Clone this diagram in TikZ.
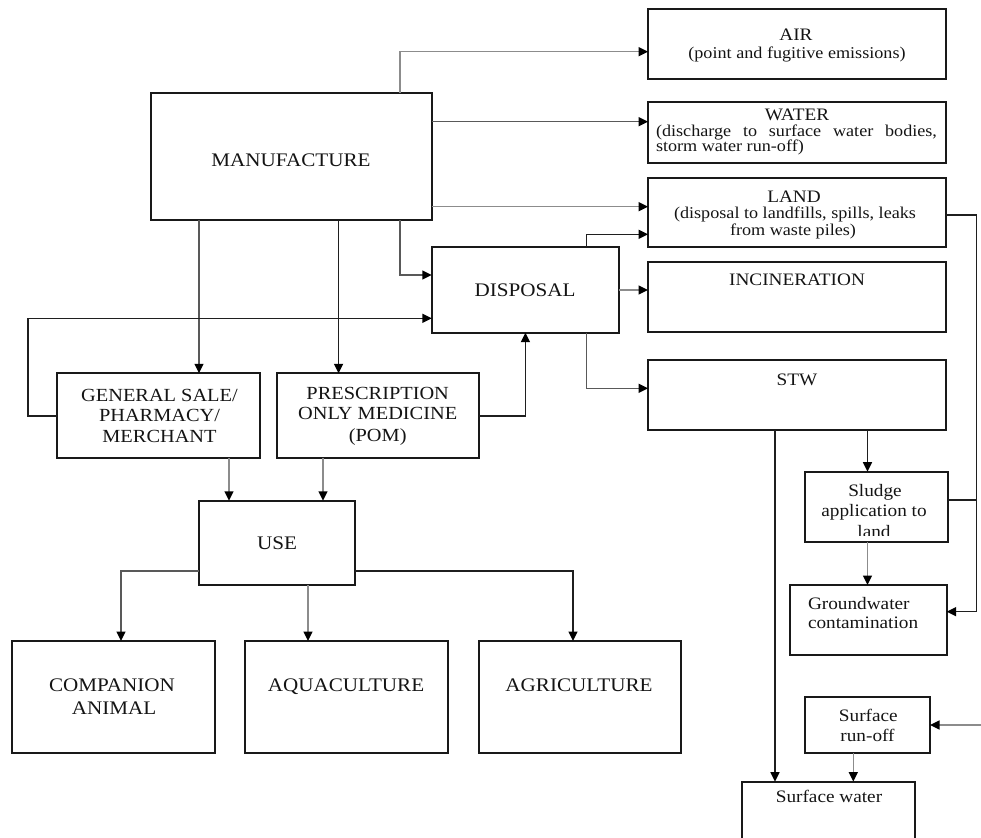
\documentclass[tikz,border=0pt]{standalone}
\usepackage{fontspec}
\setmainfont[FakeStretch=1.1]{Liberation Serif}
\usetikzlibrary{arrows.meta}
\newcommand\fsTitle{\fontsize{19.2}{21}\selectfont}
\newcommand\fsMid{\fontsize{18.5}{21}\selectfont}
\newcommand\fsHead{\fontsize{17.5}{19}\selectfont}
\newcommand\fsDesc{\fontsize{16.5}{17}\selectfont}
\tikzset{
  box/.style={draw=black!90, line width=1.8pt, inner sep=0pt, outer sep=0pt},
  txt/.style={inner sep=0pt, outer sep=0pt, anchor=base, text=black!92},
  conn/.style={line width=1.5pt},
  arr/.style={conn, -{Triangle[length=9.5pt,width=9pt,color=black]}},
  gl/.style={draw=black!45},
  ml/.style={draw=black!65},
  dl/.style={draw=black!88},
}
\begin{document}
\begin{tikzpicture}[x=1pt,y=-1pt]
\useasboundingbox (0,0) rectangle (981,837);

% ---------- boxes ----------
\node[box, minimum width=298pt, minimum height=69.4pt] (air) at (797,44) {};
\node[box, minimum width=298pt, minimum height=61.6pt] (water) at (797,132.5) {};
\node[box, minimum width=298pt, minimum height=68.4pt] (land) at (797,212.5) {};
\node[box, minimum width=298pt, minimum height=70pt] (inc) at (797,296.7) {};
\node[box, minimum width=298pt, minimum height=70pt] (stw) at (797,395) {};
\node[box, minimum width=281pt, minimum height=127.3pt] (man) at (291.2,156.4) {};
\node[box, minimum width=187.3pt, minimum height=85.4pt] (disp) at (525.4,290) {};
\node[box, minimum width=203pt, minimum height=85pt] (gen) at (158.5,415.8) {};
\node[box, minimum width=201.6pt, minimum height=85pt] (pom) at (377.8,415.8) {};
\node[box, minimum width=155.7pt, minimum height=84.3pt] (use) at (276.9,542.9) {};
\node[box, minimum width=203pt, minimum height=112pt] (comp) at (113.5,697) {};
\node[box, minimum width=203pt, minimum height=112pt] (aqua) at (346.2,697) {};
\node[box, minimum width=202pt, minimum height=112pt] (agri) at (580,697) {};
\node[box, minimum width=142.7pt, minimum height=70pt] (sludge) at (876.3,506.7) {};
\node[box, minimum width=156.7pt, minimum height=70pt] (gw) at (868.3,620) {};
\node[box, minimum width=125pt, minimum height=56.3pt] (runoff) at (867.5,724.8) {};
\node[box, minimum width=173pt, minimum height=68.3pt] (sw) at (828.5,815.8) {};

% ---------- texts ----------
\node[txt] (airT1) at (796,40.8) {\fsHead AIR};
\node[txt] (airT2) at (797,58.3) {\fsDesc (point and fugitive emissions)};
\node[txt] (watT1) at (797,120.8) {\fsHead WATER};
\node[txt, anchor=base west] (watT2) at (656,137) {\fsDesc\makebox[281pt][s]{(discharge to surface water bodies,}};
\node[txt, anchor=base west] (watT3) at (656,152) {\fsDesc storm water run-off)};
\node[txt] (lanT1) at (794,202.5) {\fsHead LAND};
\node[txt] (lanT2) at (795,218.6) {\fsDesc (disposal to landfills, spills, leaks};
\node[txt] (lanT3) at (793,235.3) {\fsDesc from waste piles)};
\node[txt] (incT) at (797,285.8) {\fsHead INCINERATION};
\node[txt] (stwT) at (797,385.8) {\fsHead STW};
\node[txt] (manT) at (291,166.2) {\fsTitle MANUFACTURE};
\node[txt] (dispT) at (525,296.3) {\fsTitle DISPOSAL};
\node[txt] (genT1) at (159.5,401) {\fsMid GENERAL SALE/};
\node[txt] (genT2) at (159.5,421.5) {\fsMid PHARMACY/};
\node[txt] (genT3) at (159.5,442.5) {\fsMid MERCHANT};
\node[txt] (pomT1) at (377.7,399) {\fsMid PRESCRIPTION};
\node[txt] (pomT2) at (377.7,419.5) {\fsMid ONLY MEDICINE};
\node[txt] (pomT3) at (377.7,441) {\fsMid (POM)};
\node[txt] (useT) at (277,549) {\fsTitle USE};
\node[txt] (compT1) at (112,691.3) {\fsTitle COMPANION};
\node[txt] (compT2) at (114,714.8) {\fsTitle ANIMAL};
\node[txt] (aquaT) at (346,691.3) {\fsTitle AQUACULTURE};
\node[txt] (agriT) at (579,691.3) {\fsTitle AGRICULTURE};
\begin{scope}
  \clip (sludge.north west) rectangle ([yshift=6pt]sludge.south east);
  \node[txt] (sluT1) at (875,496.5) {\fsHead Sludge};
  \node[txt] (sluT2) at (874,516.7) {\fsHead application to};
  \node[txt] (sluT3) at (874,537.5) {\fsHead land};
\end{scope}
\node[txt, anchor=base west] (gwT1) at (808,609.3) {\fsHead Groundwater};
\node[txt, anchor=base west] (gwT2) at (808,628.3) {\fsHead contamination};
\node[txt] (roT1) at (868.3,721.7) {\fsHead Surface};
\node[txt] (roT2) at (867.5,741.7) {\fsHead run-off};
\node[txt] (swT) at (829,802.7) {\fsHead Surface water};

% ---------- waypoints ----------
\coordinate (airIn) at ([yshift=-7.7pt]air.west);
\coordinate (watIn) at ([yshift=10.8pt]water.west);
\coordinate (lanIn1) at ([yshift=5.8pt]land.west);
\coordinate (lanIn2) at ([yshift=-21.8pt]land.west);
\coordinate (manTop) at ([xshift=108.8pt]man.north);
\coordinate (manBot) at ([xshift=108.8pt]man.south);
\coordinate (disIn1) at ([yshift=15pt]disp.west);
\coordinate (disIn2) at ([yshift=-28.3pt]disp.west);
\coordinate (disUp) at ([xshift=61.3pt]disp.north);
\coordinate (disDn) at ([xshift=61.3pt]disp.south);
\coordinate (stwIn) at ([yshift=6.7pt]stw.west);
\coordinate (manG) at ([xshift=-92.2pt]man.south);
\coordinate (manP) at ([xshift=47.4pt]man.south);
\coordinate (genU) at ([xshift=70.5pt]gen.south);
\coordinate (pomU) at ([xshift=-54.8pt]pom.south);
\coordinate (useL) at ([yshift=-28.1pt]use.west);
\coordinate (useR) at ([yshift=-28.1pt]use.east);
\coordinate (compIn) at ([xshift=7.5pt]comp.north);
\coordinate (aquaIn) at ([xshift=-38.2pt]aqua.north);
\coordinate (agriIn) at ([xshift=-7pt]agri.north);
\coordinate (loopX) at ([xshift=-29pt]gen.west);
\coordinate (lanOut) at ([yshift=-2.5pt]land.east);
\coordinate (rlane) at (976.7,0);
\coordinate (gwIn) at ([yshift=8.3pt]gw.east);
\coordinate (sluOut) at ([yshift=6.7pt]sludge.east);
\coordinate (stwA) at ([xshift=-22pt]stw.south);
\coordinate (stwB) at ([xshift=70.5pt]stw.south);
\coordinate (roOut) at ([xshift=-14.2pt]runoff.south);
\coordinate (edgeR) at (981,725);

% ---------- connectors ----------
\draw[arr,gl] (manTop) |- (airIn);
\draw[arr,ml] (watIn -| man.east) -- (watIn);
\draw[arr,gl] (lanIn1 -| man.east) -- (lanIn1);
\draw[arr,ml] (manBot) |- (disIn1);
\draw[arr,dl] (disUp) |- (lanIn2);
\draw[arr,gl] (disp.east) -- (disp.east -| inc.west);
\draw[arr,ml] (disDn) |- (stwIn);
\draw[arr,ml] (manG) -- (manG |- gen.north);
\draw[arr,dl] (manP) -- (manP |- pom.north);
\draw[arr,dl] (gen.west) -- (loopX) |- (disIn2);
\draw[arr,dl] (pom.east) -| (disp.south);
\draw[arr,gl] (genU) -- (genU |- use.north);
\draw[arr,gl] (pomU) -- (pomU |- use.north);
\draw[arr,ml] (useL) -| (compIn);
\draw[arr,gl] (aquaIn |- use.south) -- (aquaIn);
\draw[arr,dl] (useR) -| (agriIn);
\draw[arr,dl] (stwA) -- (stwA |- sw.north);
\draw[arr,dl] (stwB) -- (stwB |- sludge.north);
\draw[arr,gl] (stwB |- sludge.south) -- (stwB |- gw.north);
\draw[arr,dl] (lanOut) -- (lanOut -| rlane) -- (rlane |- gwIn) -- (gwIn);
\draw[conn,dl,line width=1.2pt] (sluOut) -- (sluOut -| rlane);
\draw[arr,gl] (edgeR) -- (edgeR -| runoff.east);
\draw[arr,gl] (roOut) -- (roOut |- sw.north);
\end{tikzpicture}
\end{document}
